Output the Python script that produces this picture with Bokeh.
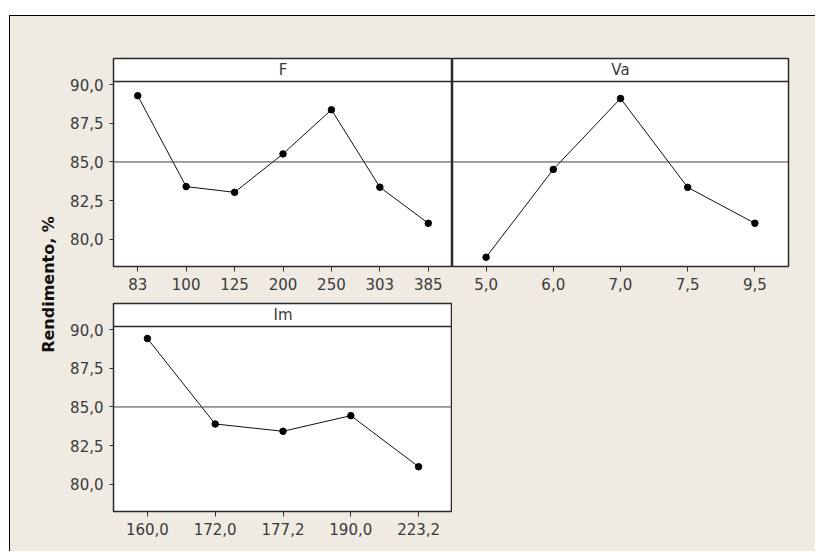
import math
from bokeh.plotting import figure
from bokeh.models import (FactorRange, Range1d, Span, Label, FixedTicker, ColumnDataSource)
from bokeh.layouts import row, column
from bokeh.embed import file_html
from bokeh.resources import INLINE

# ---- data ----
f_levels = ["83", "100", "125", "200", "250", "303", "385"]
f_means = [89.28, 83.41, 83.04, 85.52, 88.37, 83.37, 81.04]
va_levels = ["5,0", "6,0", "7,0", "7,5", "9,5"]
va_means = [78.85, 84.52, 89.10, 83.36, 81.04]
im_levels = ["160,0", "172,0", "177,2", "190,0", "223,2"]
im_means = [89.42, 83.90, 83.43, 84.44, 81.14]
y_ticks = [80.0, 82.5, 85.0, 87.5, 90.0]
y_tick_labels = ["80,0", "82,5", "85,0", "87,5", "90,0"]
grand_mean = 85.0
y_label = "Rendimento, %"

BEIGE = "#efeae2"
TXT = "#3a3a3a"
FONT = "DejaVu Sans"
Y_LO, Y_HI = 78.25, 91.68
STRIP_Y = 90.2


def panel(levels, means, name, fw, left, right, top, bottom, show_y):
    p = figure(x_range=FactorRange(*levels), y_range=Range1d(Y_LO, Y_HI),
               frame_width=fw, frame_height=208,
               min_border_left=left, min_border_right=right,
               min_border_top=top, min_border_bottom=bottom,
               output_backend="svg", toolbar_location=None,
               y_axis_location="left" if show_y else None)
    p.background_fill_color = "white"
    p.border_fill_color = BEIGE
    p.outline_line_color = "#2a2a2a"
    p.outline_line_width = 1.5
    p.grid.visible = False
    src = ColumnDataSource(dict(x=levels, y=means))
    p.add_layout(Span(location=grand_mean, dimension="width",
                      line_color="#404040", line_width=1))
    p.add_layout(Span(location=STRIP_Y, dimension="width",
                      line_color="#2a2a2a", line_width=1.5))
    p.line("x", "y", source=src, line_color="#111111", line_width=1)
    p.scatter("x", "y", source=src, size=6.5, color="black")
    p.add_layout(Label(x=len(levels) / 2, y=(STRIP_Y + Y_HI) / 2, text=name,
                       text_align="center", text_baseline="middle",
                       text_font=FONT, text_font_size="15px",
                       text_color=TXT))
    xa = p.xaxis[0]
    xa.axis_line_color = None
    xa.major_tick_out = 5
    xa.major_tick_in = 0
    xa.major_tick_line_color = "#333333"
    xa.major_label_standoff = 6
    xa.major_label_text_font = FONT
    xa.major_label_text_font_size = "15px"
    xa.major_label_text_color = TXT
    if show_y:
        ya = p.yaxis[0]
        ya.ticker = FixedTicker(ticks=y_ticks)
        ya.major_label_overrides = dict(zip(y_ticks, y_tick_labels))
        ya.axis_line_color = None
        ya.minor_tick_line_color = None
        ya.major_tick_out = 4
        ya.major_tick_in = 0
        ya.major_tick_line_color = "#333333"
        ya.major_label_standoff = 6
        ya.major_label_text_font = FONT
        ya.major_label_text_font_size = "15px"
        ya.major_label_text_color = TXT
    return p


pf = panel(f_levels, f_means, "F", 339, 46, 0, 42, 30, True)
pva = panel(va_levels, va_means, "Va", 336, 0, 27, 42, 30, False)
pim = panel(im_levels, im_means, "Im", 339, 46, 0, 7, 40, True)

# shared y-axis title
pl = figure(width=57, height=535, x_range=Range1d(0, 57), y_range=Range1d(0, 535),
            min_border=0, output_backend="svg", toolbar_location=None,
            x_axis_location=None, y_axis_location=None)
pl.background_fill_color = BEIGE
pl.border_fill_color = BEIGE
pl.outline_line_color = None
pl.grid.visible = False
pl.add_layout(Label(x=38, y=267, text=y_label, angle=math.pi / 2,
                    text_align="center", text_baseline="middle",
                    text_font=FONT, text_font_style="bold",
                    text_font_size="16px", text_color="#111111"))

p = row(pl, column(row(pf, pva), pim),
        margin=(15, 0, 0, 9),
        styles={"background-color": BEIGE,
                "border-top": "1px solid #000",
                "border-left": "1px solid #000"})

open("out.html", "w").write(file_html(p, INLINE))
